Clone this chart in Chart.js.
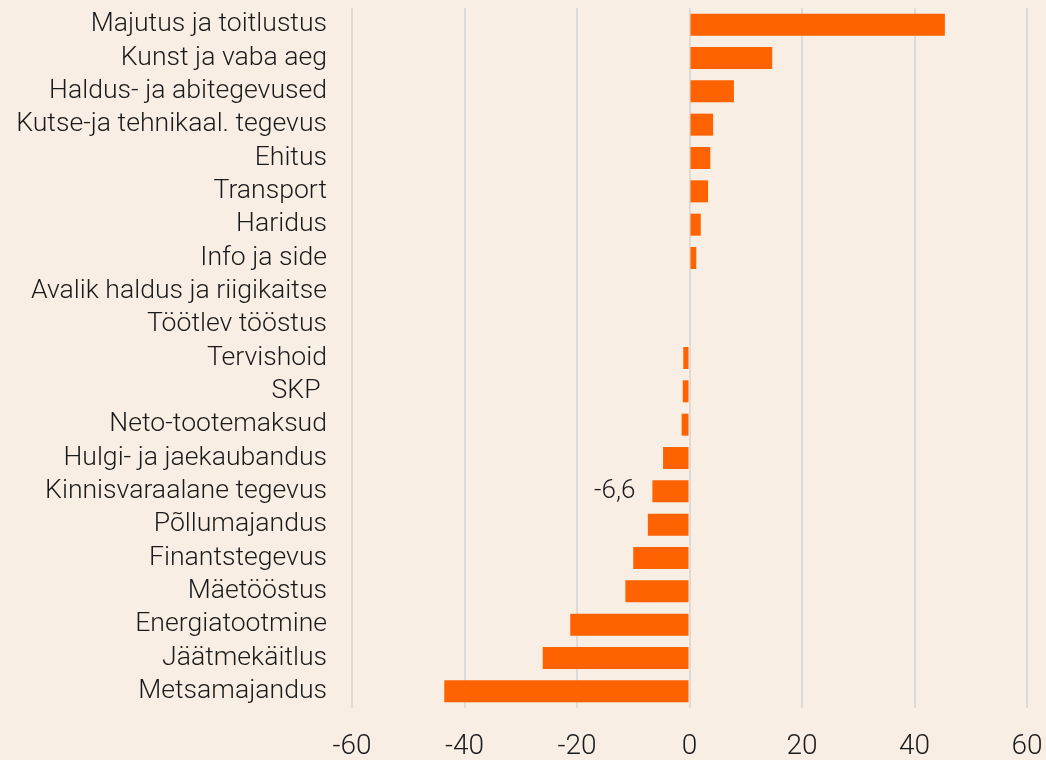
<!DOCTYPE html>
<html>
<head>
<meta charset="utf-8">
<script src="https://cdn.jsdelivr.net/npm/chart.js@4"></script>
<style>
  html, body { margin: 0; padding: 0; background: #f9eee4; }
  #wrap { width: 1046px; height: 760px; }
</style>
</head>
<body>
<div id="wrap"><canvas id="chart" width="1046" height="760"></canvas></div>
<script>
// --- DONNÉES ---
const categories = [
    'Majutus ja toitlustus', 'Kunst ja vaba aeg', 'Haldus- ja abitegevused',
    'Kutse-ja tehnikaal. tegevus', 'Ehitus', 'Transport', 'Haridus', 'Info ja side',
    'Avalik haldus ja riigikaitse', 'Töötlev tööstus', 'Tervishoid', 'SKP ',
    'Neto-tootemaksud', 'Hulgi- ja jaekaubandus', 'Kinnisvaraalane tegevus',
    'Põllumajandus', 'Finantstegevus', 'Mäetööstus', 'Energiatootmine',
    'Jäätmekäitlus', 'Metsamajandus'
];
const values = [
    45.4, 14.7, 7.9, 4.2, 3.7, 3.3, 2.0, 1.2,
    0, 0, -1.1, -1.2, -1.4, -4.7, -6.6,
    -7.4, -10.0, -11.4, -21.2, -26.1, -43.6
];
const xTicks = [-60, -40, -20, 0, 20, 40, 60];
const labelledBars = ['Kinnisvaraalane tegevus'];

const FONT = 'Roboto';
const BAR = '#ff6200';

// étiquette de valeur à gauche de la barre
const valueLabels = {
    id: 'valueLabels',
    afterDatasetsDraw(chart) {
        const ctx = chart.ctx;
        const meta = chart.getDatasetMeta(0);
        ctx.save();
        ctx.font = '300 26px ' + FONT;
        ctx.fillStyle = '#1a1a1a';
        ctx.textAlign = 'right';
        ctx.textBaseline = 'middle';
        meta.data.forEach((bar, i) => {
            if (!labelledBars.includes(categories[i])) return;
            const txt = values[i].toFixed(1).replace('.', ',');
            ctx.fillText(txt, bar.x - 17, bar.y);
        });
        ctx.restore();
    }
};

new Chart(document.getElementById('chart'), {
    type: 'bar',
    data: {
        labels: categories,
        datasets: [{
            data: values,
            backgroundColor: BAR,
            borderWidth: 0,
            barPercentage: 0.66,
            categoryPercentage: 1
        }]
    },
    options: {
        indexAxis: 'y',
        responsive: false,
        animation: false,
        layout: { padding: { top: 8, right: 19, left: 0, bottom: 0 } },
        plugins: { legend: { display: false }, tooltip: { enabled: false } },
        scales: {
            x: {
                min: -60, max: 60,
                afterBuildTicks: (scale) => { scale.ticks = xTicks.map(v => ({ value: v })); },
                afterFit: (scale) => {
                    scale.height = 52;
                    scale.paddingLeft = 0;
                    scale.paddingRight = 0;
                },
                grid: { color: '#dedad6', lineWidth: 2, drawTicks: false },
                border: { display: false },
                ticks: {
                    padding: 22,
                    color: '#1a1a1a',
                    font: { family: FONT, size: 28, weight: '300' },
                    maxRotation: 0
                }
            },
            y: {
                afterFit: (scale) => {
                    scale.width = 352;
                    scale.paddingTop = 0;
                    scale.paddingBottom = 0;
                },
                grid: { display: false, drawTicks: false },
                border: { display: false },
                ticks: {
                    padding: 25,
                    color: '#1a1a1a',
                    autoSkip: false,
                    font: { family: FONT, size: 26.6, weight: '300' }
                }
            }
        }
    },
    plugins: [valueLabels]
});
</script>
</body>
</html>
